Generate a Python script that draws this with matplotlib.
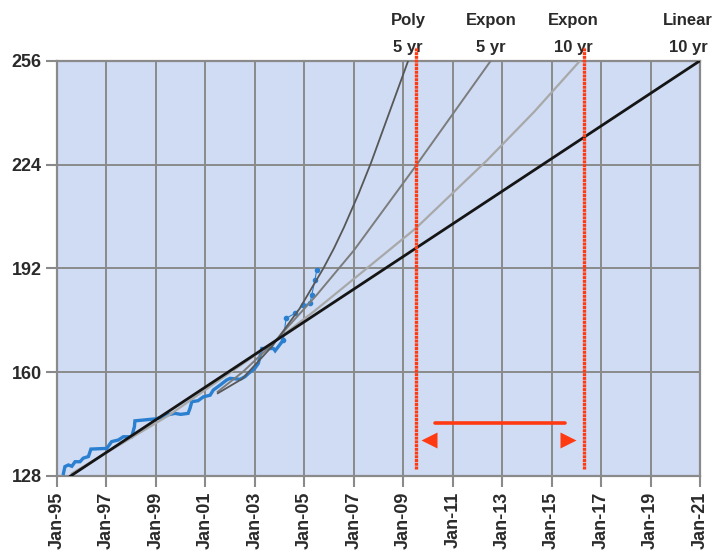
import matplotlib
matplotlib.use("Agg")
import matplotlib.pyplot as plt
import matplotlib.transforms as mtransforms

# blue measured series (decimal year, value)
data_x = [1995.26, 1995.32, 1995.46, 1995.60, 1995.73, 1995.93, 1996.06, 1996.27,
          1996.37, 1997.01, 1997.21, 1997.48, 1997.68, 1998.02, 1998.13, 1998.15,
          1998.56, 1998.96, 1999.23, 1999.44, 1999.77, 2000.00, 2000.30, 2000.38,
          2000.45, 2000.70, 2000.92, 2001.19, 2001.32, 2001.59, 2001.86, 2002.00,
          2002.40, 2002.60, 2002.74, 2003.00, 2003.14, 2003.28, 2003.41, 2003.75,
          2003.82, 2004.15]
data_y = [128.8, 130.9, 131.4, 131.0, 132.4, 132.4, 133.5, 134.0,
          136.3, 136.5, 138.6, 139.1, 140.1, 140.1, 143.2, 145.0,
          145.3, 145.6, 146.0, 146.8, 147.3, 147.0, 147.3, 148.9,
          150.9, 151.2, 152.4, 152.9, 154.5, 156.0, 157.6, 158.1,
          157.8, 158.6, 159.6, 161.2, 162.7, 167.3, 167.3, 167.3,
          166.6, 169.9]
# last months shown as dots
dots_x = [2004.15, 2004.26, 2004.62, 2004.96, 2005.23, 2005.30, 2005.43, 2005.50]
dots_y = [169.9, 176.6, 178.1, 180.7, 181.2, 183.8, 188.4, 191.5]

# trend lines
poly5_x = [2001.5, 2002.5, 2003.7, 2004.8, 2005.77, 2006.2, 2006.6, 2007.2, 2007.7, 2009.2]
poly5_y = [153.5, 158.0, 168.0, 179.5, 192.0, 198.2, 204.6, 215.1, 224.6, 256.0]
expon5_x = [2001.5, 2002.5, 2003.7, 2005.5, 2007.0, 2009.5, 2012.54]
expon5_y = [154.0, 160.0, 168.6, 183.8, 197.5, 223.5, 256.0]
expon10_x = [1995.6, 1999.5, 2003.7, 2005.4, 2007.3, 2009.5, 2012.4, 2014.3, 2016.15]
expon10_y = [128.8, 146.6, 168.9, 178.8, 190.6, 204.3, 225.4, 240.3, 256.0]
linear10_x = [1995.55, 2021.0]
linear10_y = [128.0, 256.0]

labels = [("Poly", "5 yr", 2009.19), ("Expon", "5 yr", 2012.55),
          ("Expon", "10 yr", 2015.87), ("Linear", "10 yr", 2020.52)]

year_ticks = list(range(1995, 2022, 2))
year_labels = ["Jan-%02d" % (y % 100) for y in year_ticks]
value_ticks = [128, 160, 192, 224, 256]

# red markers: dashed lines, span arrow
red_dates = [2009.52, 2016.29]
red_span = (130.2, 260.3)
arrow_x = [2010.28, 2015.54]
arrow_y = 144.2
head_x = [2010.06, 2015.67]
head_y = 139.1

plt.rcParams["font.family"] = ["Liberation Sans", "DejaVu Sans"]
plt.rcParams["font.weight"] = "bold"

fig = plt.figure(figsize=(7.19, 5.54), dpi=100)
ax = fig.add_axes([0.0793, 0.1408, 0.8943, 0.7496])
ax.set_facecolor("#cfdcf4")

ax.set_xlim(1995, 2021)
ax.set_ylim(128, 256)
ax.set_xticks(year_ticks)
ax.set_xticklabels(year_labels, rotation=90, fontsize=13, color="#2a2a2a")
ax.set_yticks(value_ticks)
ax.set_yticklabels([str(v) for v in value_ticks], fontsize=13, color="#2a2a2a")
ax.tick_params(axis="both", direction="out", length=8, width=1.5, color="#8a8a8a", pad=3)
ax.grid(True, color="#8a8a8a", lw=1.4)
ax.set_axisbelow(True)
for s in ax.spines.values():
    s.set_color("#8a8a8a")
    s.set_linewidth(1.6)

ax.plot(data_x, data_y, color="#2a7fd0", lw=2.4, solid_joinstyle="miter", zorder=3)
ax.plot(dots_x, dots_y, color="#2a7fd0", lw=0.8, marker="o", ms=3, zorder=3)

ax.plot(expon10_x, expon10_y, color="#a8a8a8", lw=1.6, zorder=4)
ax.plot(expon5_x, expon5_y, color="#7c7c7c", lw=1.4, zorder=4)
ax.plot(poly5_x, poly5_y, color="#575757", lw=1.3, zorder=4)
ax.plot(linear10_x, linear10_y, color="#151515", lw=2.0, zorder=5)

for d in red_dates:
    ax.plot([d, d], red_span, color="#ff3a12", lw=2.4,
            linestyle=(0, (0.9, 0.22)), clip_on=False, zorder=6)
ax.plot(arrow_x, [arrow_y, arrow_y], color="#ff3a12", lw=2.6,
        solid_capstyle="round", zorder=6)
ax.plot(head_x[0], head_y, marker="<", ms=12, color="#ff3a12", mec="none", zorder=6)
ax.plot(head_x[1], head_y, marker=">", ms=12, color="#ff3a12", mec="none", zorder=6)

trans = mtransforms.blended_transform_factory(ax.transData, fig.transFigure)
for top, bottom, x in labels:
    ax.text(x, 0.963, top, transform=trans, ha="center", va="center",
            fontsize=12, color="#2a2a2a", clip_on=False)
    ax.text(x, 0.914, bottom, transform=trans, ha="center", va="center",
            fontsize=12, color="#2a2a2a", clip_on=False)

fig.savefig("out.png", dpi=100)
